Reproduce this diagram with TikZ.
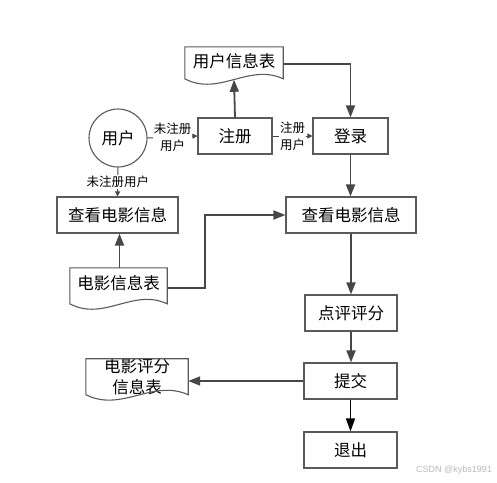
\documentclass[tikz,border=0pt]{standalone}
\usepackage{fontspec}
\setmainfont{Noto Sans CJK SC}
\newfontfamily\wmfont{Liberation Sans}
\usetikzlibrary{arrows.meta,calc}
\definecolor{lc}{HTML}{474747}
\definecolor{bc}{HTML}{5A5A5A}
\definecolor{wm}{HTML}{B8B8B8}
\newcommand\docshape[2]{%
  \draw[docstyle] ($(#1.north west)+(0,#2)$) -- (#1.north west) -- (#1.north east) -- ($(#1.north east)+(0,#2)$)
    .. controls ($(#1.north east)!0.35!(#1.north west)+(0,#2-16)$) and ($(#1.north east)!0.65!(#1.north west)+(0,#2+18)$)
    .. ($(#1.north west)+(0,#2)$) -- cycle;}
\begin{document}
\begin{tikzpicture}[x=1pt,y=-1pt,
  box/.style={draw=bc, line width=1.1pt, minimum width=#1, minimum height=36pt, inner sep=0pt, font=\fontsize{16.5}{20}\selectfont},
  doc/.style={draw=none, minimum width=#1, inner sep=0pt, font=\fontsize{16.5}{20}\selectfont},
  docstyle/.style={draw=bc, line width=1.1pt},
  flow/.style={draw=lc, line width=1.8pt, -{Triangle[length=12pt,width=9pt]}},
  thinflow/.style={draw=lc, line width=1pt, -{Triangle[length=5pt,width=5pt]}},
  blackflow/.style={draw=black, line width=1.2pt, -{Triangle[length=13pt,width=9pt]}},
  lbl/.style={fill=white, inner sep=1pt, align=center, font=\fontsize{12.5}{17}\selectfont}]
\useasboundingbox (0,0) rectangle (497,482);
\node[draw=bc, line width=1.1pt, circle, minimum size=58pt, inner sep=0pt, font=\fontsize{16.5}{20}\selectfont] (user) at (118,138) {用户};
\node[box=74pt] (reg) at (235,136) {注册};
\node[box=75pt] (login) at (350.5,136) {登录};
\node[box=121pt] (v1) at (117.5,215) {查看电影信息};
\node[box=130pt] (v2) at (351,215) {查看电影信息};
\node[box=92pt] (dp) at (351,313) {点评评分};
\node[box=93pt] (sub) at (350.5,381) {提交};
\node[box=93pt] (ex) at (350.5,450) {退出};
\node[doc=98pt, minimum height=29pt] (t) at (234,61.5) {用户信息表};
\docshape{t}{32}
\node[doc=97pt, minimum height=30pt] (m) at (118.5,283) {电影信息表};
\docshape{m}{36}
\node[doc=102pt, minimum height=30pt, align=center, font=\fontsize{16.5}{21}\selectfont] (r) at (137,377) {电影评分\\信息表};
\docshape{r}{36}
\node[font=\wmfont\fontsize{9}{10}\selectfont, text=wm, anchor=east, inner sep=0pt] (wmk) at (492,470) {CSDN @kybs1991};
% connectors
\draw[thinflow] (user.east) -- node[lbl]{未注册\\用户} (reg.west);
\draw[thinflow] (reg.east) -- node[lbl]{注册\\用户} (login.west);
\draw[thinflow] (user.south) -- node[lbl]{未注册用户} (v1.north);
\draw[flow] (reg.north) -- ($(t.north)+(0,33)$);
\draw[flow] ($(t.east)+(0,2.5)$) -| (login.north);
\draw[flow] (login.south) -- (login.south |- v2.north);
\draw[flow] ($(m.north)+(1,0)$) -- ($(m.north |- v1.south)+(1,0)$);
\coordinate (bend) at (205,288);
\draw[flow] ($(m.east)+(0,5)$) -- (bend) |- (v2.west);
\draw[flow] (v2.south) -- (v2.south |- dp.north);
\draw[flow] (dp.south) -- (dp.south |- sub.north);
\draw[flow] (sub.west) -- (sub.west -| r.east);
\draw[blackflow] (sub.south) -- (ex.north);
\end{tikzpicture}
\end{document}
